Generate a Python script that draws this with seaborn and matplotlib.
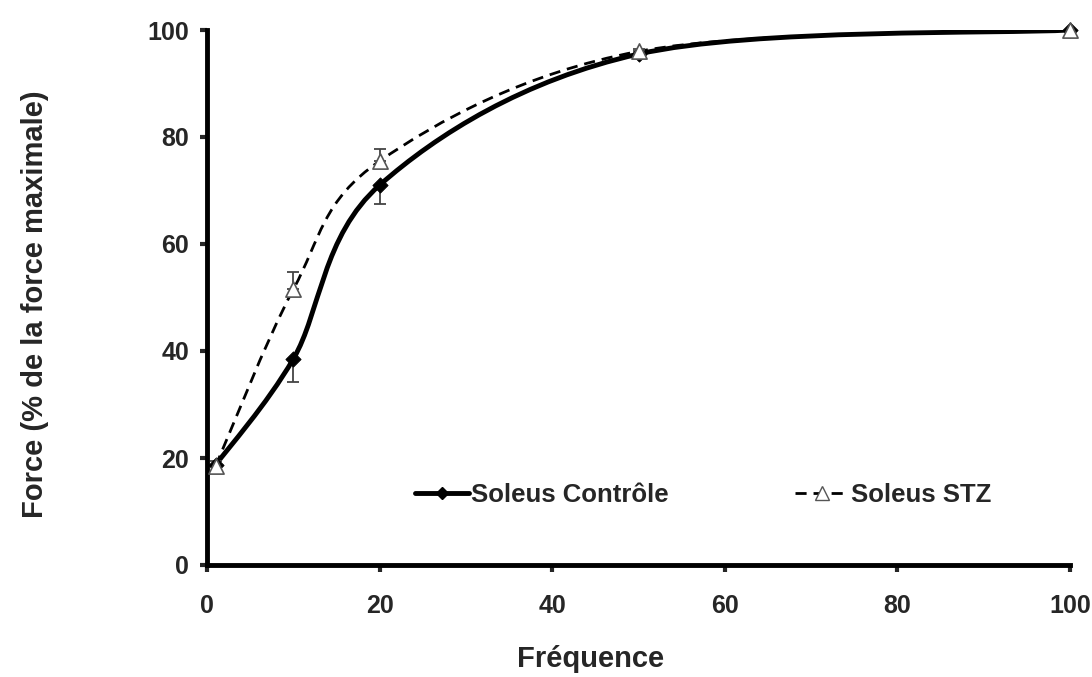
# Force-frequency curves, soleus control vs STZ
import numpy as np
import pandas as pd
import matplotlib
matplotlib.use("Agg")
import matplotlib.pyplot as plt
from matplotlib.path import Path
from matplotlib.patches import PathPatch
from matplotlib.lines import Line2D
import seaborn as sns

# Data
frequences = [1, 10, 20, 50, 100]
force_controle = [18.7, 38.5, 71.0, 95.5, 100.0]
err_controle = [1.2, 4.3, 3.5, 0.5, 0.3]
force_stz = [18.5, 51.5, 75.5, 96.0, 100.0]
err_stz = [1.0, 3.3, 2.2, 0.5, 0.3]

sns.set_style("white")
plt.rcParams["font.family"] = ["Liberation Sans", "DejaVu Sans"]
plt.rcParams["font.weight"] = "bold"


def smooth_path(x, y):
    # Excel-style smoothed line: cubic Bezier segments through every point
    pts = np.column_stack([x, y]).astype(float)
    ext = np.vstack([pts[0], pts, pts[-1]])
    verts = [pts[0]]
    codes = [Path.MOVETO]
    for i in range(1, len(ext) - 2):
        p0, p1, p2, p3 = ext[i - 1], ext[i], ext[i + 1], ext[i + 2]
        verts += [p1 + (p2 - p0) / 6, p2 - (p3 - p1) / 6, p2]
        codes += [Path.CURVE4] * 3
    return Path(verts, codes)


fig = plt.figure(figsize=(10.92, 6.77), dpi=100)
ax = fig.add_axes([207 / 1092, 1 - 565 / 677, (1070 - 207) / 1092, (565 - 30) / 677])

dash = (0, (4, 2.5))

# smoothed lines
ax.add_patch(PathPatch(smooth_path(frequences, force_stz), fill=False,
                       edgecolor="black", lw=2, linestyle=dash, zorder=2))
ax.add_patch(PathPatch(smooth_path(frequences, force_controle), fill=False,
                       edgecolor="black", lw=3.5, zorder=3))

# error bars (control: minus only, STZ: plus only)
zeros = [0] * len(frequences)
ax.errorbar(frequences, force_controle, yerr=[err_controle, zeros], fmt="none",
            ecolor="#444444", elinewidth=1.3, capsize=4, capthick=1.3, zorder=4)
ax.errorbar(frequences, force_stz, yerr=[zeros, err_stz], fmt="none",
            ecolor="#444444", elinewidth=1.3, capsize=4, capthick=1.3, zorder=4)

# markers
df_c = pd.DataFrame({"f": frequences, "force": force_controle})
df_s = pd.DataFrame({"f": frequences, "force": force_stz})
sns.scatterplot(data=df_c, x="f", y="force", marker="D", s=60, color="black",
                edgecolor="black", ax=ax, zorder=5, legend=False, clip_on=False)
sns.scatterplot(data=df_s, x="f", y="force", marker="^", s=120, color="white",
                edgecolor="#555555", linewidth=1.2, ax=ax, zorder=6, legend=False,
                clip_on=False)

ax.set_xlim(0, 100)
ax.set_ylim(0, 100)
ax.set_xticks(range(0, 101, 20))
ax.set_yticks(range(0, 101, 20))
ax.tick_params(axis="both", direction="out", length=5, width=3,
               labelsize=18, left=True, bottom=True)
ax.tick_params(axis="y", pad=8)
ax.tick_params(axis="x", pad=16)
for lab in ax.get_xticklabels() + ax.get_yticklabels():
    lab.set_fontweight("bold")

for side in ["top", "right"]:
    ax.spines[side].set_visible(False)
for side in ["left", "bottom"]:
    ax.spines[side].set_linewidth(3.5)
    ax.spines[side].set_color("black")

ax.set_xlabel("Fréquence", fontsize=21, fontweight="bold")
ax.set_ylabel("Force (% de la force maximale)", fontsize=21, fontweight="bold")
ax.xaxis.set_label_coords(0.445, -0.150)
ax.yaxis.set_label_coords(-0.183, 0.488)

handles = [
    Line2D([], [], color="black", lw=3.5, marker="D", markersize=6),
    Line2D([], [], color="black", lw=2, linestyle=dash, marker="^",
           markersize=10, markerfacecolor="white", markeredgecolor="#555555"),
]
ax.legend(handles, ["Soleus Contrôle", "Soleus STZ"], ncol=2, frameon=False,
          loc="center", bbox_to_anchor=(0.575, 0.131),
          prop={"weight": "bold", "size": 18.5}, handlelength=2.1,
          handletextpad=0.1, columnspacing=4.9)

fig.savefig("out.png", dpi=100)
